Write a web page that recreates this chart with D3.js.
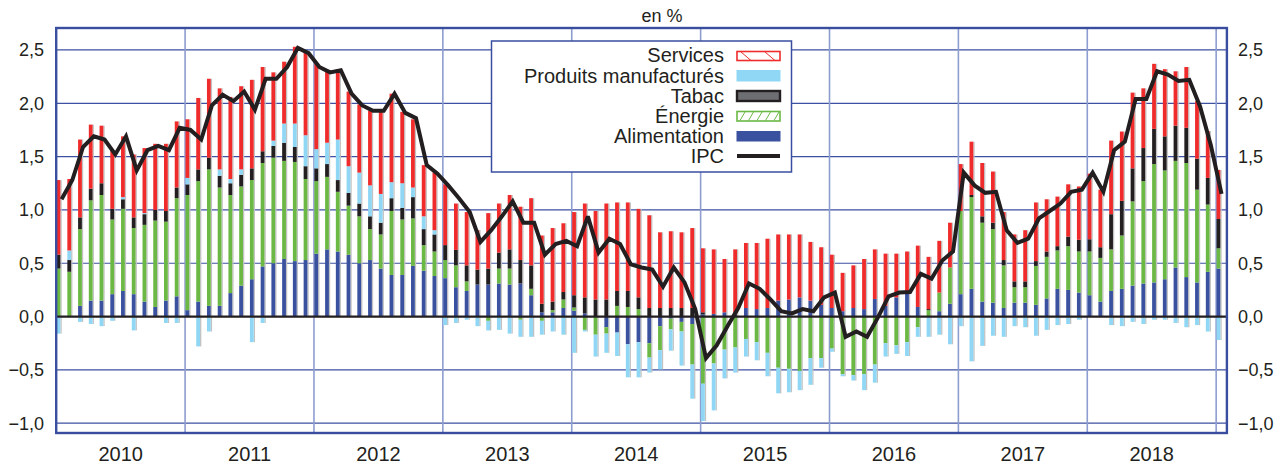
<!DOCTYPE html>
<html><head><meta charset="utf-8">
<script src="https://cdn.jsdelivr.net/npm/d3@7"></script>
<style>
html,body{margin:0;padding:0;background:#fff;}
text{font-family:"Liberation Sans",Arial,Helvetica,sans-serif;fill:#231f20;}
</style></head>
<body><svg id="chart" width="1288" height="464"></svg>
<script>
// ---- Data (monthly, Jan 2010 – Jan 2019), contributions in points of %
const years = [2010,2011,2012,2013,2014,2015,2016,2017,2018];
const yTicks = [-1.0,-0.5,0.0,0.5,1.0,1.5,2.0,2.5];
const seriesNames = ["Services","Produits manufacturés","Tabac","Énergie","Alimentation","IPC"];

const alimentation = [0.00,0.00,0.10,0.15,0.15,0.21,0.24,0.21,0.14,0.09,0.15,0.19,
0.06,0.14,0.10,0.10,0.22,0.29,0.35,0.47,0.50,0.54,0.52,0.53,
0.59,0.63,0.61,0.58,0.50,0.53,0.45,0.39,0.39,0.475,0.43,0.38,
0.36,0.275,0.24,0.30,0.30,0.31,0.30,0.31,0.20,0.04,0.04,0.08,
0.055,0.03,0.00,-0.10,-0.15,-0.26,-0.24,-0.25,-0.09,-0.02,-0.05,-0.07,
0.02,0.025,0.04,0.02,0.08,0.07,0.08,0.15,0.16,0.18,0.15,0.11,
0.08,0.05,0.08,0.07,0.165,0.10,0.18,0.225,0.09,0.00,0.05,0.12,
0.21,0.26,0.14,0.13,0.08,0.13,0.13,0.11,0.17,0.26,0.25,0.225,
0.20,0.14,0.24,0.26,0.29,0.31,0.32,0.35,0.46,0.37,0.32,0.42,
0.45];
const energie = [0.45,0.42,0.72,0.94,0.99,0.70,0.77,0.62,0.72,0.81,0.74,0.92,
1.08,1.13,1.28,1.11,0.92,0.93,0.93,0.97,0.99,0.92,0.93,0.76,
0.68,0.68,0.56,0.46,0.44,0.29,0.32,0.60,0.52,0.445,0.24,0.23,
0.17,0.205,0.09,0.00,-0.04,0.14,0.15,-0.03,0.06,-0.04,0.02,0.08,
0.03,-0.125,-0.17,-0.06,0.10,0.09,0.07,-0.135,-0.225,-0.10,-0.09,-0.38,
-0.63,-0.44,-0.31,-0.29,-0.21,-0.24,-0.34,-0.48,-0.49,-0.51,-0.39,-0.39,
-0.30,-0.54,-0.55,-0.54,-0.45,-0.25,-0.27,-0.24,-0.10,0.06,0.175,0.34,
0.78,0.86,0.74,0.69,0.40,0.145,0.145,0.365,0.39,0.36,0.41,0.385,
0.41,0.41,0.39,0.50,0.79,0.96,1.11,1.02,1.00,1.07,0.87,0.63,
0.19];
const tabac = [0.13,0.11,0.11,0.11,0.11,0.10,0.09,0.10,0.10,0.10,0.10,0.10,
0.10,0.11,0.11,0.11,0.11,0.11,0.11,0.11,0.11,0.17,0.14,0.12,
0.12,0.12,0.11,0.12,0.12,0.12,0.11,0.12,0.11,0.20,0.15,0.16,
0.14,0.145,0.15,0.14,0.15,0.15,0.18,0.22,0.22,0.08,0.08,0.07,
0.115,0.15,0.16,0.16,0.14,0.15,0.11,0.08,0.08,0.08,0.08,0.08,
0.02,0.00,0.00,0.00,0.00,0.00,0.00,0.00,0.00,0.00,0.00,0.00,
0.00,0.00,0.00,0.00,0.00,0.00,0.00,0.00,0.00,0.01,0.00,0.00,
0.00,0.02,0.06,0.06,0.05,0.055,0.055,0.045,0.05,0.04,0.09,0.11,
0.115,0.10,0.33,0.325,0.31,0.31,0.33,0.32,0.33,0.33,0.29,0.25,
0.275];
const manufactures = [-0.16,0.09,-0.05,-0.07,-0.09,-0.04,0.02,-0.13,0.01,0.00,-0.06,-0.06,
0.06,-0.28,-0.14,0.06,0.04,0.05,-0.24,-0.06,0.05,0.18,0.22,0.29,
0.18,0.20,0.38,0.25,0.29,0.29,0.27,0.15,0.23,0.09,0.12,0.04,
-0.08,-0.06,-0.03,-0.09,-0.09,-0.125,-0.16,-0.16,-0.19,-0.13,-0.14,-0.17,
-0.34,-0.015,-0.205,-0.18,-0.22,-0.31,-0.33,-0.14,-0.18,-0.20,-0.32,-0.32,
-0.35,-0.44,-0.27,-0.235,-0.165,-0.17,-0.22,-0.24,-0.22,-0.18,-0.25,-0.09,
-0.03,-0.02,-0.05,-0.15,-0.17,-0.125,-0.08,-0.13,-0.09,-0.19,-0.17,-0.26,
-0.09,-0.42,-0.275,-0.18,-0.19,-0.09,-0.10,-0.18,-0.125,-0.08,-0.07,-0.03,
0.00,0.00,-0.08,-0.09,-0.05,-0.07,-0.03,-0.03,-0.06,-0.10,-0.08,-0.14,
-0.22];
const services = [0.70,0.67,0.73,0.60,0.54,0.55,0.57,0.59,0.61,0.62,0.63,0.62,
0.55,0.67,0.74,0.76,0.77,0.78,0.83,0.79,0.64,0.58,0.72,0.79,
0.80,0.67,0.66,0.70,0.64,0.70,0.77,0.83,0.67,0.64,0.48,0.54,
0.57,0.435,0.50,0.37,0.52,0.46,0.51,0.50,0.63,0.64,0.69,0.645,
0.78,0.88,0.83,0.90,0.83,0.83,0.83,0.87,0.71,0.72,0.71,0.75,
0.60,0.605,0.50,0.61,0.61,0.62,0.65,0.62,0.61,0.59,0.55,0.54,
0.50,0.36,0.40,0.47,0.465,0.49,0.41,0.385,0.575,0.49,0.485,0.42,
0.44,0.50,0.50,0.48,0.45,0.44,0.48,0.55,0.49,0.465,0.49,0.50,
0.615,0.54,0.69,0.65,0.71,0.56,0.61,0.63,0.51,0.57,0.54,0.44,
0.46];
const ipc = [1.10,1.28,1.59,1.69,1.66,1.52,1.69,1.37,1.56,1.60,1.56,1.77,
1.75,1.66,1.98,2.08,2.02,2.11,1.94,2.23,2.23,2.34,2.52,2.47,
2.34,2.29,2.31,2.09,1.98,1.93,1.93,2.09,1.91,1.86,1.42,1.34,
1.23,1.11,0.98,0.70,0.81,0.94,1.08,0.88,0.88,0.58,0.68,0.71,
0.66,0.94,0.60,0.73,0.68,0.49,0.46,0.44,0.28,0.46,0.32,0.07,
-0.39,-0.27,-0.09,0.08,0.31,0.26,0.16,0.05,0.03,0.07,0.05,0.18,
0.225,-0.19,-0.14,-0.19,-0.01,0.19,0.225,0.23,0.40,0.355,0.525,0.61,
1.35,1.23,1.16,1.17,0.81,0.69,0.73,0.92,0.99,1.06,1.17,1.19,
1.35,1.17,1.56,1.64,2.04,2.04,2.30,2.27,2.21,2.22,1.97,1.61,
1.15];

// month categories Jan 2010 .. Jan 2019
const months = [];
years.concat([2019]).forEach(y => { for (let m = 1; m <= 12; m++) { if (months.length < alimentation.length) months.push(y + "-" + String(m).padStart(2, "0")); } });

const keys = ["alimentation","energie","tabac","manufactures","services"];
const colors = {alimentation:"#3a51a0", energie:"#6cb844", tabac:"#231f20", manufactures:"#8fd7f4", services:"#ef2b2b"};
const table = months.map((m,i) => ({month:m, alimentation:alimentation[i], energie:energie[i], tabac:tabac[i], manufactures:manufactures[i], services:services[i], ipc:ipc[i]}));

// ---- Layout
const L = 56.2, R = 1226.9, T = 28, B = 433;
const svg = d3.select("#chart");
const x = d3.scaleBand().domain(months).range([L, R]).paddingInner(0).paddingOuter(0);
const y = d3.scaleLinear().domain([-1.092, 2.706]).range([B, T]);
const bw = x.bandwidth();
const fmt = v => d3.format(".1f")(v).replace(".", ",").replace("-", "\u2212");

svg.append("rect").attr("width",1288).attr("height",464).attr("fill","#fff");
svg.append("defs").append("clipPath").attr("id","plot").append("rect")
  .attr("x",L).attr("y",T).attr("width",R-L).attr("height",B-T);

// horizontal grid
svg.append("g").selectAll("line").data(yTicks.filter(v => v !== 0)).join("line")
  .attr("x1",L).attr("x2",R).attr("y1",d=>y(d)).attr("y2",d=>y(d))
  .attr("stroke","#3d50a1").attr("stroke-width",1.2);
// vertical year lines
const yearStarts = years.slice(1).map(yy => yy + "-01").concat(["2019-01"]);
svg.append("g").selectAll("line").data(yearStarts).join("line")
  .attr("x1",d=>x(d)).attr("x2",d=>x(d)).attr("y1",T).attr("y2",B)
  .attr("stroke","#8e9dd0").attr("stroke-width",1.6);

// stacked bars
const stacked = d3.stack().keys(keys).offset(d3.stackOffsetDiverging)(table);
const plot = svg.append("g").attr("clip-path","url(#plot)");
// shadows
plot.append("g").selectAll("rect").data(table).join("rect")
  .attr("x", d => x(d.month) + 4.2).attr("width", 1.3)
  .attr("y", d => y(d3.sum(keys, k => Math.max(0, d[k]))))
  .attr("height", d => y(d3.sum(keys, k => Math.min(0, d[k]))) - y(d3.sum(keys, k => Math.max(0, d[k]))))
  .attr("fill","#c2c2c2");
plot.append("g").selectAll("g").data(stacked).join("g")
  .attr("fill", s => colors[s.key])
  .selectAll("rect").data(s => s).join("rect")
  .attr("x", d => x(d.data.month) + 0.4)
  .attr("width", 3.8)
  .attr("y", d => y(Math.max(d[0], d[1])))
  .attr("height", d => Math.abs(y(d[0]) - y(d[1])));

// zero line
svg.append("line").attr("x1",L).attr("x2",R).attr("y1",y(0)).attr("y2",y(0))
  .attr("stroke","#231f20").attr("stroke-width",2.2);

// IPC line
const line = d3.line().x(d => x(d.month) + bw/2).y(d => y(d.ipc));
plot.append("path").datum(table).attr("d", line).attr("fill","none")
  .attr("stroke","#231f20").attr("stroke-width",4).attr("stroke-linejoin","miter").attr("stroke-miterlimit",3);

// frame
svg.append("rect").attr("x",L).attr("y",T).attr("width",R-L).attr("height",B-T)
  .attr("fill","none").attr("stroke","#3a4ea0").attr("stroke-width",2.4);

// axes labels
const yl = svg.append("g");
yl.selectAll("text.l").data(yTicks).join("text").attr("class","l")
  .attr("x",44).attr("y",d=>y(d)+6.5).attr("text-anchor","end").attr("font-size",18).text(fmt);
yl.selectAll("text.r").data(yTicks).join("text").attr("class","r")
  .attr("x",1238).attr("y",d=>y(d)+6.5).attr("text-anchor","start").attr("font-size",18).text(fmt);
svg.append("g").selectAll("text").data(years).join("text")
  .attr("x", yy => (x(yy + "-01") + (x((yy+1) + "-01"))) / 2)
  .attr("y", 461).attr("text-anchor","middle").attr("font-size",20).text(d=>d);
svg.append("text").attr("x",662).attr("y",22).attr("text-anchor","middle").attr("font-size",18).text("en %");

// legend
const lg = svg.append("g");
lg.append("rect").attr("x",491.5).attr("y",41).attr("width",300).attr("height",131)
  .attr("fill","#fff").attr("stroke","#3a4ea0").attr("stroke-width",1.5);
const rowsY = [62,82.7,102.7,122.5,143,163];
lg.selectAll("text").data(seriesNames).join("text")
  .attr("x",724).attr("y",(d,i)=>rowsY[i]).attr("text-anchor","end").attr("font-size",20).text(d=>d);
const sx = 737, sw = 43;
// Services swatch (hatched red)
lg.append("rect").attr("x",sx).attr("y",51.5).attr("width",sw).attr("height",9).attr("fill","#fff").attr("stroke","#ef2b2b").attr("stroke-width",1.6);
[[741,751],[765,775]].forEach(([a,b]) => lg.append("line").attr("x1",a).attr("y1",52).attr("x2",b).attr("y2",60.5).attr("stroke","#ef2b2b").attr("stroke-width",1));
// Produits manufacturés
lg.append("rect").attr("x",sx-0.5).attr("y",70).attr("width",sw+1).attr("height",11.5).attr("fill","#8fd7f4");
// Tabac
lg.append("rect").attr("x",sx).attr("y",91).attr("width",sw).attr("height",10).attr("fill","#6d6e71").attr("stroke","#231f20").attr("stroke-width",2.4);
// Énergie swatch (hatched green)
lg.append("rect").attr("x",sx).attr("y",111.5).attr("width",sw).attr("height",9.5).attr("fill","#fff").attr("stroke","#6cb844").attr("stroke-width",1.6);
[0,1,2,3,4].forEach(k => lg.append("line").attr("x1",sx+3+k*8.5).attr("y1",120.5).attr("x2",sx+8+k*8.5).attr("y2",112).attr("stroke","#6cb844").attr("stroke-width",1));
// Alimentation
lg.append("rect").attr("x",sx-0.5).attr("y",131).attr("width",sw+1).attr("height",10.5).attr("fill","#3a51a0");
// IPC
lg.append("line").attr("x1",sx).attr("x2",sx+sw).attr("y1",156).attr("y2",156).attr("stroke","#231f20").attr("stroke-width",4);
</script></body></html>
